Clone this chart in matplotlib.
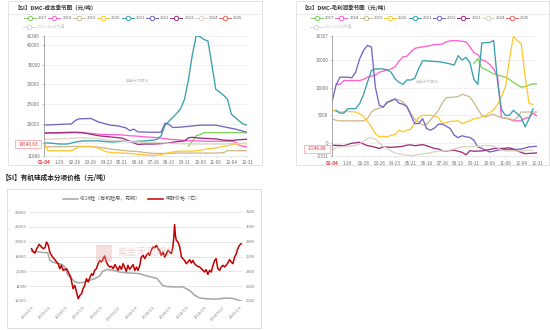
import numpy as np
import pandas as pd
import matplotlib
matplotlib.use('Agg')
import matplotlib.pyplot as plt
from matplotlib.patches import Rectangle

plt.rcParams['font.family'] = ['Noto Sans CJK SC', 'DejaVu Sans']

W, H = 550, 330

# ---- seasonal charts: x is week index 0..52 ----
week_labels = ['01-04', '1-29', '02-26', '03-26', '04-23', '05-21', '06-18',
               '07-16', '08-13', '09-11', '10-09', '11-06', '12-04', '12-31']
years = ['2017', '2018', '2019', '2020', '2021', '2022', '2023', '2024', '2025']
year_colors = ['#7fd35d', '#ff5fcf', '#cdbb8e', '#ffc832', '#3a9fae',
               '#7565c4', '#9e2e7e', '#dcd3c4', '#f0645c']

# DMC cost (yuan/t)
cost_2017 = [(37, 14300), (38, 15500), (39, 16900), (40, 17200), (41, 17700), (44, 17700), (48, 17700), (52, 17700)]
cost_2018 = [(0, 17600), (4, 17600), (8, 17700), (10, 17600), (12, 17500), (14, 17300), (16, 17200), (18, 17200),
             (20, 17100), (22, 16900), (24, 16800), (26, 16600), (28, 16500), (30, 16300), (32, 16000), (34, 15900),
             (36, 15700), (38, 15600), (42, 15500), (48, 15500), (49, 15300), (50, 14500), (51, 14200), (52, 14100)]
cost_2019 = [(0, 14100), (4, 14100), (8, 14200), (12, 14200), (14, 14000), (16, 13700), (18, 13400), (20, 13200),
             (22, 13000), (24, 12900), (26, 12600), (28, 12400), (32, 12400), (34, 12500), (44, 12500), (46, 12600),
             (47, 13100), (52, 13100)]
cost_2020 = [(0, 15200), (1, 13100), (7, 13100), (8, 13600), (9, 14100), (12, 14100), (13, 14000), (14, 13700),
             (15, 13200), (16, 12800), (18, 12600), (20, 12500), (22, 12400), (24, 12200), (26, 12000), (28, 11880),
             (30, 12100), (32, 12600), (34, 12900), (36, 13000), (38, 13000), (40, 13200), (42, 13600), (44, 13800),
             (46, 14200), (48, 14600), (50, 14900), (52, 14900)]
cost_2021 = [(0, 15100), (2, 15000), (4, 14800), (6, 14800), (8, 15300), (10, 15600), (14, 15600), (16, 15400),
             (18, 15300), (20, 15500), (22, 15400), (24, 15500), (26, 15600), (28, 15800), (29, 16000), (30, 16900),
             (31, 19600), (32, 20600), (33, 21600), (34, 22600), (35, 23800), (36, 26200), (37, 31200), (38, 37500),
             (39, 42386), (40, 42100), (41, 41400), (42, 41000), (43, 35000), (44, 28700), (45, 28000), (46, 27200),
             (47, 26200), (48, 22400), (49, 21500), (50, 20700), (51, 19900), (52, 19600)]
cost_2022 = [(0, 19600), (4, 19800), (7, 19900), (8, 20800), (9, 21200), (12, 21300), (14, 20400), (17, 19600),
             (19, 19400), (21, 18900), (22, 18200), (23, 18600), (24, 17900), (27, 17800), (30, 17800), (31, 20100),
             (32, 19800), (33, 19000), (35, 19100), (37, 19300), (40, 19600), (44, 19600), (47, 19000), (49, 18600),
             (52, 17800)]
cost_2023 = [(0, 17600), (4, 17700), (8, 17800), (10, 17700), (12, 17300), (14, 16900), (16, 16700), (18, 16500),
             (20, 16300), (22, 15500), (24, 14700), (26, 14800), (28, 14800), (30, 14900), (32, 15100), (34, 15400),
             (36, 15600), (37, 16400), (38, 16500), (40, 16300), (42, 16200), (44, 16100), (46, 15800), (48, 15700),
             (50, 15900), (52, 16000)]
cost_2024 = [(0, 16000), (4, 16100), (8, 16300), (10, 16400), (12, 16300), (14, 16100), (16, 15900), (18, 15700),
             (20, 15600), (22, 15400), (24, 15300), (26, 15200), (30, 15100), (32, 15000), (34, 14900), (38, 14800),
             (46, 14800), (48, 14900), (52, 15000)]
cost_2025 = [(0, 14540.63)]

# DMC gross profit (yuan/t)
profit_2017 = [(36, 14400), (37, 15300), (38, 13600), (39, 13300), (40, 12900), (41, 12500), (42, 12300), (43, 12100),
               (44, 11900), (45, 11500), (46, 11000), (47, 10500), (48, 10100), (49, 10200), (50, 10500), (51, 10700),
               (52, 10700)]
profit_2018 = [(1, 10600), (2, 10600), (3, 11300), (5, 11300), (7, 11300), (8, 11500), (9, 11900), (11, 12300),
               (12, 12800), (14, 13200), (15, 13400), (16, 13800), (17, 14800), (18, 15600), (19, 15700), (20, 16500),
               (21, 17100), (22, 17300), (24, 17500), (26, 17800), (28, 17900), (29, 18300), (30, 18500), (32, 18500),
               (34, 18300), (35, 17400), (36, 16300), (37, 16000), (38, 15000), (39, 14800), (40, 14200), (41, 13400),
               (42, 12000), (43, 4600), (44, 4500), (45, 4300), (46, 4000), (48, 4000), (49, 4500), (50, 4600),
               (51, 5400), (52, 4900)]
profit_2019 = [(0, 4400), (1, 4100), (2, 4000), (8, 4000), (9, 4400), (10, 5600), (11, 6100), (12, 6300), (13, 6500),
               (14, 7200), (15, 7800), (17, 7800), (18, 7400), (19, 6600), (20, 5300), (21, 4300), (22, 3700),
               (23, 3200), (24, 3400), (25, 4200), (26, 5000), (27, 5900), (28, 7300), (29, 8200), (31, 8300),
               (32, 8400), (33, 8800), (34, 8600), (35, 8300), (36, 7300), (37, 6100), (38, 5000), (39, 4700),
               (40, 5000), (41, 5200), (42, 4800), (43, 4600), (45, 4400), (46, 4100), (47, 4600), (48, 5600), (52, 5600)]
profit_2020 = [(0, 5900), (2, 5600), (4, 5700), (6, 5600), (7, 5300), (8, 4800), (9, 3900), (10, 2900), (11, 1700),
               (12, 1100), (13, 1200), (14, 1100), (15, 1400), (16, 1500), (17, 2300), (18, 2000), (19, 2300),
               (20, 2500), (21, 3600), (22, 4600), (23, 5000), (25, 5000), (26, 4900), (27, 4600), (28, 3500),
               (29, 3700), (30, 3900), (32, 4000), (33, 3500), (34, 3800), (35, 4000), (36, 4400), (37, 4500),
               (38, 4700), (39, 5000), (40, 5500), (41, 6000), (42, 7000), (43, 8400), (44, 10200), (45, 15000),
               (46, 19307), (47, 18500), (48, 18000), (49, 12000), (50, 7100), (51, 7000)]
profit_2021 = [(1, 5900), (2, 5400), (3, 5400), (4, 6200), (6, 6200), (7, 7100), (8, 8800), (9, 11000), (10, 13100),
               (11, 13400), (13, 13400), (14, 13200), (15, 12800), (16, 11600), (17, 11000), (18, 10600), (19, 11400),
               (20, 11400), (21, 11700), (22, 13500), (23, 14900), (25, 14800), (27, 14700), (28, 14600), (30, 14300),
               (31, 14100), (32, 15800), (33, 15000), (34, 15500), (35, 14500), (36, 11500), (37, 10600), (38, 18100),
               (40, 18200), (41, 18550), (42, 11000), (43, 6000), (44, 5000), (45, 5000), (46, 5900), (47, 5300),
               (48, 4600), (49, 2900), (50, 4400), (51, 6200)]
profit_2022 = [(0, 7400), (1, 10400), (2, 11900), (4, 11900), (5, 11800), (6, 12800), (7, 15200), (8, 16750),
               (9, 17650), (10, 17350), (11, 10100), (12, 6800), (13, 6500), (14, 7400), (15, 7600), (16, 8000),
               (17, 7200), (18, 7000), (19, 6600), (20, 5000), (21, 3500), (22, 3500), (23, 4400), (24, 2600),
               (25, 2300), (26, 2700), (27, 3400), (28, 3400), (29, 3000), (30, 2600), (31, 1400), (32, 960),
               (33, 1300), (34, 1100), (35, 1000), (36, 480), (37, -720), (38, -1000), (39, -1330), (40, -1630),
               (41, -1500), (42, -1300), (44, -1200), (46, -1200), (48, -1100), (50, -720), (52, -600)]
profit_2023 = [(0, -420), (2, -450), (3, -500), (5, -60), (7, 120), (8, -200), (9, -500), (10, -600), (11, -800),
               (12, -1000), (13, -700), (15, -800), (17, -700), (18, -600), (19, -400), (20, -350), (21, -500),
               (22, -400), (23, -300), (24, -500), (26, -1000), (27, -1100), (28, -1400), (29, -1450), (31, -1300),
               (32, -1500), (33, -1700), (34, -2150), (35, -1400), (36, -1500), (38, -1450), (40, -1200), (41, -1000),
               (43, -1000), (45, -900), (46, -1100), (47, -1450), (48, -1700), (49, -1950), (50, -1900), (52, -1800)]
profit_2024 = [(0, -1450), (1, -800), (2, -700), (4, -600), (6, -450), (7, -200), (8, 300), (9, 780), (10, 960),
               (11, 700), (12, 0), (13, -600), (14, -1000), (15, -1500), (16, -1800), (17, -2000), (19, -2230),
               (20, -2311), (22, -2100), (24, -1900), (26, -1600), (28, -1450), (30, -1300), (32, -900), (33, -720),
               (35, -650), (37, -600), (39, -450), (41, -550), (42, -900), (43, -1300), (44, -1450), (47, -1450),
               (49, -1400), (51, -1300)]
profit_2025 = [(0, -1546.88)]

cost_series = [cost_2017, cost_2018, cost_2019, cost_2020, cost_2021, cost_2022, cost_2023, cost_2024, cost_2025]
profit_series = [profit_2017, profit_2018, profit_2019, profit_2020, profit_2021, profit_2022, profit_2023,
                 profit_2024, profit_2025]
cost_yticks = [11880, 15000, 20000, 25000, 30000, 35000, 40000, 42386]
profit_yticks = [-2311, 0, 5000, 10000, 15000, 19307]

# ---- cost components: days since 2023-01-03 ----
si_days = [0, 17, 38, 57, 64, 75, 92, 106, 117, 127, 141, 152, 163, 180, 205, 222, 240, 250, 264, 285, 310, 334,
           380, 398, 415, 440, 450, 461, 475, 496, 531, 545, 556, 573, 591, 615, 654, 671, 685, 706, 720, 731, 738]
si_price = [18700, 18650, 18550, 18500, 17500, 17250, 17050, 16950, 16600, 15500, 15050, 14600, 14450, 14500,
            14800, 15000, 15400, 16000, 16250, 16150, 15900, 15800, 15700, 15450, 15300, 15050, 14600, 14100, 13950,
            13900, 13900, 13650, 13400, 12800, 12400, 12300, 12250, 12350, 12400, 12350, 12200, 12050, 12000]
meoh_days = [0, 6, 12, 18, 27, 35, 41, 47, 53, 59, 64, 70, 76, 82, 88, 94, 99, 105, 111, 123, 129, 135, 140, 146,
             152, 158, 164, 170, 176, 181, 187, 193, 199, 205, 211, 216, 222, 228, 234, 240, 246, 252, 257, 263,
             269, 275, 281, 287, 293, 298, 304, 310, 316, 322, 328, 333, 339, 345, 351, 357, 363, 369, 374, 380,
             386, 392, 398, 404, 410, 415, 421, 427, 433, 439, 445, 450, 456, 462, 468, 474, 480, 486, 491, 497,
             500, 503, 506, 509, 515, 521, 527, 532, 538, 544, 550, 556, 562, 567, 573, 579, 585, 591, 597, 603,
             608, 614, 620, 626, 632, 638, 644, 649, 655, 661, 667, 673, 679, 684, 690, 696, 702, 708, 714, 720,
             725, 731, 737]
meoh_price = [2705, 2660, 2647, 2705, 2764, 2728, 2705, 2719, 2795, 2750, 2660, 2616, 2584, 2557, 2526, 2503, 2436,
              2481, 2413, 2436, 2391, 2346, 2279, 2166, 2211, 2121, 2031, 2076, 2099, 2166, 2211, 2301, 2256, 2315,
              2368, 2346, 2413, 2436, 2503, 2548, 2526, 2571, 2607, 2526, 2481, 2458, 2467, 2436, 2490, 2458, 2413,
              2472, 2427, 2503, 2449, 2400, 2481, 2427, 2458, 2490, 2413, 2458, 2413, 2472, 2593, 2616, 2571, 2616,
              2647, 2616, 2683, 2728, 2719, 2750, 2705, 2683, 2616, 2660, 2593, 2638, 2683, 2660, 2638, 2728, 2850,
              3030, 2880, 2818, 2795, 2728, 2593, 2571, 2548, 2503, 2526, 2557, 2512, 2548, 2503, 2481, 2467, 2458,
              2436, 2413, 2391, 2422, 2359, 2413, 2391, 2481, 2548, 2571, 2436, 2413, 2458, 2481, 2458, 2481, 2512,
              2557, 2526, 2503, 2593, 2638, 2705, 2750, 2773]
date_ticks = ['2023/1/3', '2023/3/3', '2023/5/3', '2023/7/3', '2023/9/3', '2023/11/3', '2024/1/3',
              '2024/3/3', '2024/5/3', '2024/7/3', '2024/9/3', '2024/11/3', '2025/1/3']

TICK = '#6e6e6e'
RED = '#e8333a'

fig = plt.figure(figsize=(W / 100, H / 100), dpi=100)


def px_axes(l, t, r, b, **kw):
    return fig.add_axes([l / W, 1 - b / H, (r - l) / W, (b - t) / H], **kw)


def season_panel(ax, series, yticks, hidden_label=None):
    for pts, c in zip(series, year_colors):
        wk, val = zip(*pts)
        ax.plot(wk, val, color=c, lw=0.95, solid_joinstyle='round')
    ax.set_xlim(0, 52)
    ax.set_ylim(yticks[0], yticks[-1])
    ax.set_xticks(range(0, 53, 4))
    ax.set_xticklabels(week_labels)
    ax.set_yticks(yticks)
    # the tooltip box sits over this tick's label, so leave it blank
    ax.set_yticklabels(['' if v == hidden_label else str(v) for v in yticks])
    ax.grid(axis='y', color='#ececec', lw=0.5)
    ax.set_axisbelow(True)
    for s in ['top', 'right']:
        ax.spines[s].set_visible(False)
    ax.spines['left'].set_color('#9a9a9a')
    ax.spines['bottom'].set_color('#e0e0e0')
    ax.spines['left'].set_linewidth(0.6)
    ax.spines['bottom'].set_linewidth(0.5)
    ax.tick_params(axis='y', length=1.5, width=0.4, color='#9a9a9a', pad=1.2, labelsize=3.3, labelcolor=TICK)
    ax.tick_params(axis='x', length=1.5, width=0.4, color='#cccccc', pad=2.0, labelsize=3.3, labelcolor=TICK)
    first = ax.get_xticklabels()[0]
    first.set_color(RED)
    first.set_fontweight('bold')


ax1 = px_axes(44, 35.6, 247, 155.5)
season_panel(ax1, cost_series, cost_yticks, hidden_label=15000)
ax2 = px_axes(332, 36.3, 537, 155.7)
season_panel(ax2, profit_series, profit_yticks)

# bottom chart
start = pd.Timestamp('2023-01-03')
si_dates = start + pd.to_timedelta(si_days, unit='D')
meoh_dates = start + pd.to_timedelta(meoh_days, unit='D')
tick_dates = pd.to_datetime([d.replace('/', '-') for d in date_ticks])

ax3 = px_axes(29, 212, 242, 301)
ax3.plot(si_dates, si_price, color='#a6a6a6', lw=1.1)
ax3.set_ylim(12000, 24000)
ax3.set_yticks(range(12000, 24001, 2000))
ax3.set_xlim(start - pd.Timedelta(days=9), start + pd.Timedelta(days=740))
ax3.set_xticks(tick_dates)
ax3.set_xticklabels(date_ticks, rotation=45, ha='right', rotation_mode='anchor')
ax3.grid(axis='y', color='#dcdcdc', lw=0.5)
ax3.set_axisbelow(True)
axr = ax3.twinx()
axr.plot(meoh_dates, meoh_price, color='#c00000', lw=1.1)
axr.set_ylim(2000, 3200)
axr.set_yticks(range(2000, 3201, 200))
for a in (ax3, axr):
    for s in a.spines.values():
        s.set_visible(False)
ax3.tick_params(axis='y', length=0, pad=1.5, labelsize=3.0, labelcolor='#7f7f7f')
axr.tick_params(axis='y', length=0, pad=3.0, labelsize=3.0, labelcolor='#7f7f7f')
ax3.tick_params(axis='x', length=0, pad=3.0, labelsize=2.8, labelcolor='#7f7f7f')

# overlay in pixel coordinates: frames, titles, legends, tooltip labels
ov = fig.add_axes([0, 0, 1, 1], zorder=10)
ov.set_xlim(0, W)
ov.set_ylim(H, 0)
ov.axis('off')
ov.patch.set_alpha(0)

for x0, x1 in [(8, 262), (296, 549)]:
    ov.add_patch(Rectangle((x0, 1), x1 - x0, 164, fill=False, ec='#dedede', lw=0.6))
    ov.plot([x0, x1], [14, 14], color='#e4e4e4', lw=0.5)
ov.add_patch(Rectangle((7, 189), 254, 139, fill=False, ec='#d9d9d9', lw=0.6))

ov.text(14, 8, '【SI】DMC-成本季节图（元/吨）', fontsize=4.0, fontweight='bold', color='#333333', va='center')
ov.text(301, 8, '【SI】DMC-毛利润季节图（元/吨）', fontsize=4.0, fontweight='bold', color='#333333', va='center')
ov.text(2, 177, '【SI】有机硅成本分项价格（元/吨）', fontsize=4.8, fontweight='bold', color='#222222', va='center')


def legend_item(x, y, c, label, tc='#666666'):
    ov.plot([x - 6, x + 6], [y, y], color=c, lw=0.7)
    ov.plot(x, y, 'o', ms=3.2, mfc='white', mec=c, mew=0.7)
    ov.text(x + 8, y, label, fontsize=3.0, va='center', color=tc)


for base in (30, 317):
    for i, (yr, c) in enumerate(zip(years, year_colors)):
        legend_item(base + i * 24.4, 18, c, yr)
    legend_item(base - 1, 27, '#d6d6d6', '2017-2024均值', tc='#c8c8c8')

# tooltip labels on the y axes
for (bx, by, txt) in [(15, 144, '14540.63'), (304, 149, '-1546.88')]:
    ov.add_patch(Rectangle((bx, by - 4), 26, 8, fc='white', ec='#f3a0a0', lw=0.5))
    ov.text(bx + 13, by, txt, fontsize=3.4, color=RED, ha='center', va='center')

# watermarks
ov.text(138, 81, '紫金天风期货', fontsize=2.8, color='#c4c4c4', ha='center', va='center')
ov.text(428, 82, '紫金天风期货', fontsize=2.8, color='#c4c4c4', ha='center', va='center')
ov.add_patch(Rectangle((96, 245), 16, 17, fc='#e9a3a3', ec='none', alpha=0.35))
ov.text(118, 252, '紫金天风期货', fontsize=7, color='#e8b4b4', alpha=0.6, va='center')

# bottom legend
ov.plot([63, 78], [199, 199], color='#a6a6a6', lw=1.1)
ov.text(80, 199, '421#硅（有机硅用，昆明）', fontsize=3.6, color='#595959', va='center')
ov.plot([148, 163], [199, 199], color='#c00000', lw=1.1)
ov.text(165, 199, '甲醇价格（右）', fontsize=3.6, color='#595959', va='center')

fig.savefig('out.png', dpi=100)
